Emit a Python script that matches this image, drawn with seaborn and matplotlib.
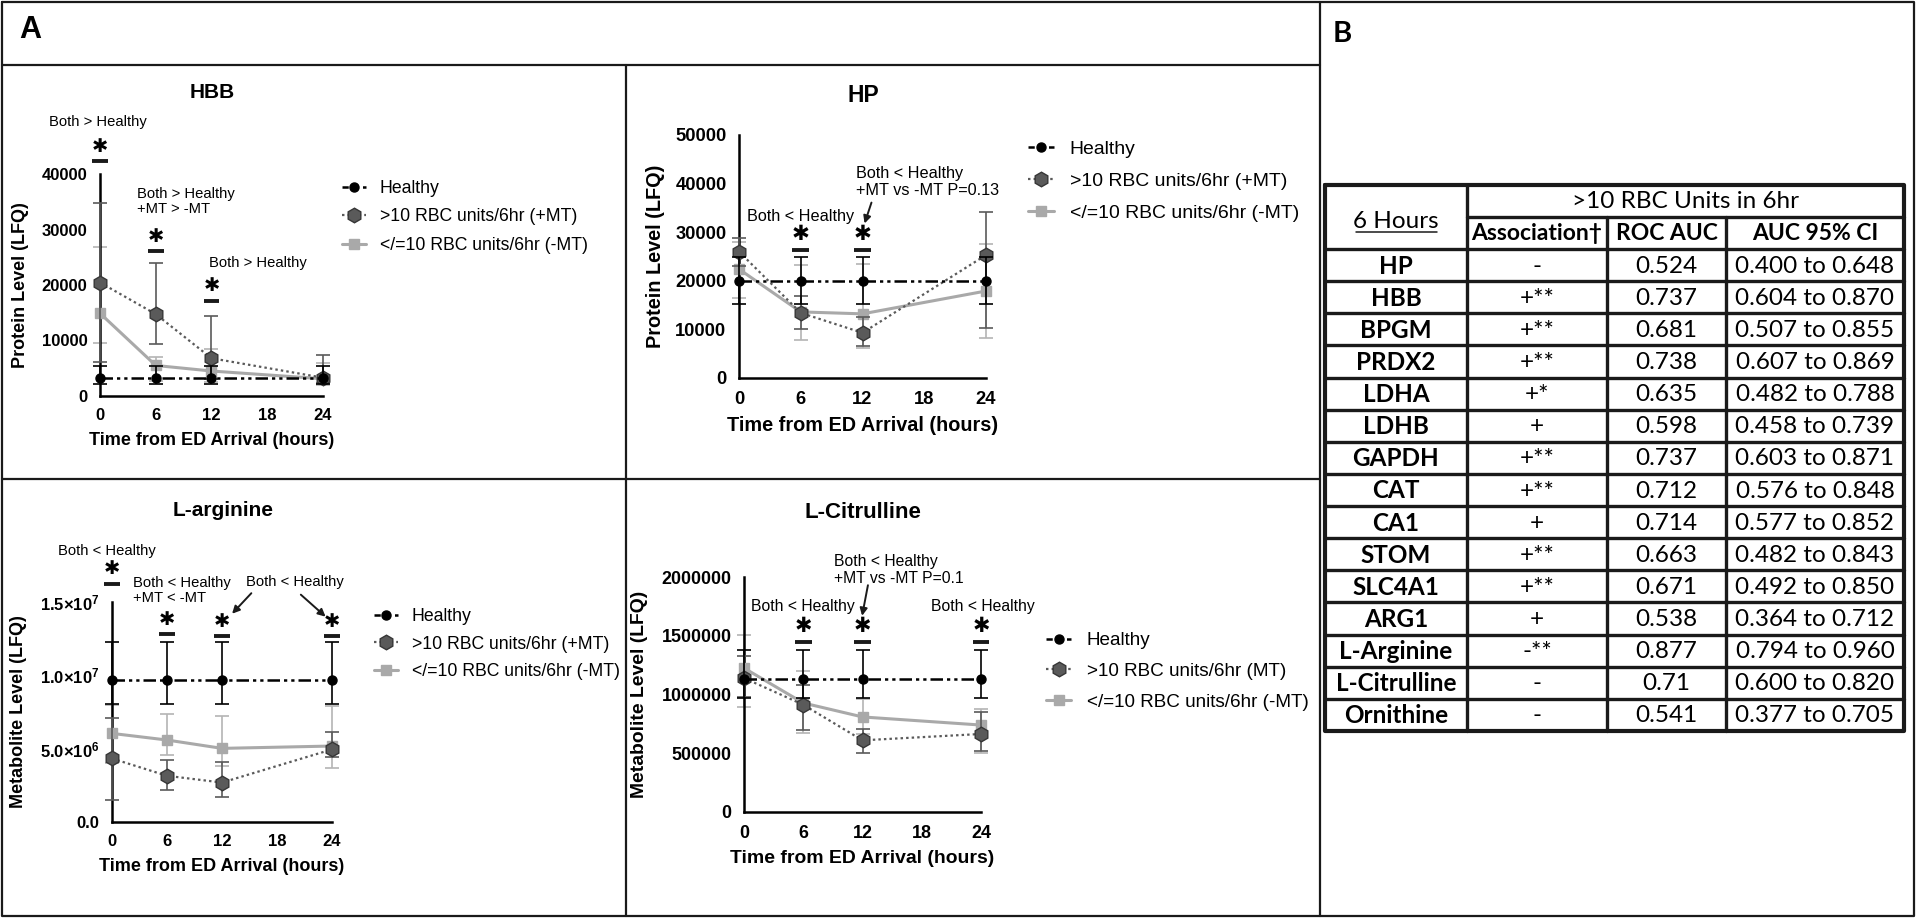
import numpy as np
import pandas as pd
import seaborn as sns
import matplotlib
matplotlib.use("Agg")
import matplotlib.pyplot as plt
from matplotlib.lines import Line2D

# ---------------- data ----------------
HOURS = [0, 6, 12, 24]
X_TICKS = [0, 6, 12, 18, 24]
SERIES = ["Healthy", ">10 RBC units/6hr (+MT)", "</=10 RBC units/6hr (-MT)"]
SERIES_CIT = ["Healthy", ">10 RBC units/6hr (MT)", "</=10 RBC units/6hr (-MT)"]

# HBB (protein, LFQ)
HBB_H = [3300, 3300, 3300, 3300]
HBB_H_LO = [2250, 2250, 2250, 2250]
HBB_H_HI = [5400, 5400, 5400, 5400]
HBB_MT = [20450, 14750, 6800, 3300]
HBB_MT_LO = [6200, 9300, 3000, 2300]
HBB_MT_HI = [34800, 24050, 14400, 7350]
HBB_NO = [14900, 5500, 4500, 3100]
HBB_NO_LO = [9500, 2700, 2500, 2000]
HBB_NO_HI = [26800, 7000, 8540, 6000]

# HP (protein, LFQ)
HP_H = [19900, 19900, 19900, 19900]
HP_H_LO = [15200, 15200, 15200, 15200]
HP_H_HI = [24800, 24800, 24800, 24800]
HP_MT = [26000, 13400, 9300, 25300]
HP_MT_LO = [23000, 10000, 6500, 10200]
HP_MT_HI = [28900, 16800, 12500, 34200]
HP_NO = [22400, 13600, 13200, 17900]
HP_NO_LO = [16500, 7900, 6200, 8300]
HP_NO_HI = [28000, 23200, 23400, 27500]

# L-arginine (metabolite, LFQ)
ARG_H = [9.7e6, 9.7e6, 9.7e6, 9.7e6]
ARG_H_LO = [8.05e6, 8.05e6, 8.05e6, 8.05e6]
ARG_H_HI = [12.3e6, 12.3e6, 12.3e6, 12.3e6]
ARG_MT = [4.33e6, 3.15e6, 2.69e6, 4.95e6]
ARG_MT_LO = [1.48e6, 2.2e6, 1.7e6, 4.45e6]
ARG_MT_HI = [7.07e6, 4.2e6, 4.1e6, 6.16e6]
ARG_NO = [6.04e6, 5.59e6, 5.02e6, 5.18e6]
ARG_NO_LO = [4.0e6, 4.56e6, 3.8e6, 3.65e6]
ARG_NO_HI = [8.0e6, 7.36e6, 7.2e6, 7.9e6]

# L-Citrulline (metabolite, LFQ)
CIT_H = [1.135e6, 1.135e6, 1.135e6, 1.135e6]
CIT_H_LO = [0.97e6, 0.97e6, 0.97e6, 0.97e6]
CIT_H_HI = [1.375e6, 1.375e6, 1.375e6, 1.375e6]
CIT_MT = [1.14e6, 0.913e6, 0.61e6, 0.664e6]
CIT_MT_LO = [0.98e6, 0.70e6, 0.50e6, 0.516e6]
CIT_MT_HI = [1.33e6, 1.08e6, 0.706e6, 0.848e6]
CIT_NO = [1.225e6, 0.928e6, 0.809e6, 0.74e6]
CIT_NO_LO = [0.894e6, 0.672e6, 0.66e6, 0.502e6]
CIT_NO_HI = [1.51e6, 1.197e6, 0.96e6, 0.877e6]

# table (panel B)
TAB_GENES = ["HP", "HBB", "BPGM", "PRDX2", "LDHA", "LDHB", "GAPDH", "CAT", "CA1",
             "STOM", "SLC4A1", "ARG1", "L-Arginine", "L-Citrulline", "Ornithine"]
TAB_ASSOC = ["-", "+**", "+**", "+**", "+*", "+", "+**", "+**", "+",
             "+**", "+**", "+", "-**", "-", "-"]
TAB_AUC = ["0.524", "0.737", "0.681", "0.738", "0.635", "0.598", "0.737", "0.712",
           "0.714", "0.663", "0.671", "0.538", "0.877", "0.71", "0.541"]
TAB_CI = ["0.400 to 0.648", "0.604 to 0.870", "0.507 to 0.855", "0.607 to 0.869",
          "0.482 to 0.788", "0.458 to 0.739", "0.603 to 0.871", "0.576 to 0.848",
          "0.577 to 0.852", "0.482 to 0.843", "0.492 to 0.850", "0.364 to 0.712",
          "0.794 to 0.960", "0.600 to 0.820", "0.377 to 0.705"]

# ---------------- style ----------------
sns.set_theme(style="white")
plt.rcParams["font.family"] = ["Liberation Sans", "DejaVu Sans"]
plt.rcParams["mathtext.fontset"] = "custom"
plt.rcParams["mathtext.rm"] = "Liberation Sans"
plt.rcParams["mathtext.bf"] = "Liberation Sans:bold"
for k in ["text.color", "axes.labelcolor", "xtick.color", "ytick.color", "axes.edgecolor"]:
    plt.rcParams[k] = "black"

W, H = 1916, 918
fig = plt.figure(figsize=(W / 100, H / 100), dpi=100)
bg = fig.add_axes([0, 0, 1, 1])
bg.set_xlim(0, W)
bg.set_ylim(H, 0)
bg.axis("off")

# frame lines
LW_FRAME = 1.6
bg.plot([2, W - 2, W - 2, 2, 2], [2, 2, H - 2, H - 2, 2], color="k", lw=LW_FRAME)
bg.plot([2, 1320], [65, 65], color="k", lw=LW_FRAME)
bg.plot([1320, 1320], [2, H - 2], color="k", lw=LW_FRAME)
bg.plot([626, 626], [65, H - 2], color="k", lw=LW_FRAME)
bg.plot([2, 1320], [479, 479], color="k", lw=LW_FRAME)
bg.text(19, 30, "A", fontsize=22, fontweight="bold", va="center", ha="left")
bg.text(1333, 34, "B", fontsize=21, fontweight="bold", va="center", ha="left",
        family=["Lato", "DejaVu Sans"])

C_H = "black"
C_MT = "#5a5a5a"
C_MT_EDGE = "#363636"
C_NO = "#a9a9a9"
C_NO_ERR = "#b4b4b4"
DASH_H = (0, (5, 1.6, 1.3, 1.6, 1.3, 1.6))
DASH_MT = (0, (1.1, 1.4))


def px_axes(x0, x1, y_bottom, y_top):
    return fig.add_axes([x0 / W, 1 - y_bottom / H, (x1 - x0) / W, (y_bottom - y_top) / H])


def draw_series(ax, mean, lo, hi, color, ecolor, ls, marker, ms, mec, lw, z):
    mean = np.asarray(mean, float)
    yerr = [mean - np.asarray(lo, float), np.asarray(hi, float) - mean]
    cont = ax.errorbar(HOURS, mean, yerr=yerr, fmt="none", ecolor=ecolor, elinewidth=1.2,
                       capsize=4.8, capthick=1.2, zorder=z - 0.5)
    for art in cont.get_children():
        art.set_clip_on(False)
    df = pd.DataFrame({"hours": HOURS, "value": mean})
    sns.lineplot(data=df, x="hours", y="value", ax=ax, color=color, linestyle=ls, lw=lw,
                 marker=marker, markersize=ms, markeredgecolor=mec, markeredgewidth=1.0,
                 markerfacecolor=color, errorbar=None, legend=False, zorder=z, clip_on=False)


def panel(x0, x1, yb, yt, ylim, yticks, yticklabels, title, title_xy, ylabel, ylabel_pos,
          data, labels, legend_xy, leg_space, scale, annots, arrows, sigs, sig_y):
    ax = px_axes(x0, x1, yb, yt)
    (h, hlo, hhi), (m, mlo, mhi), (n, nlo, nhi) = data
    draw_series(ax, n, nlo, nhi, C_NO, C_NO_ERR, "-", "s", 6.5, C_NO, 2.2, 3)
    draw_series(ax, m, mlo, mhi, C_MT, C_MT, DASH_MT, "h", 10.5, C_MT_EDGE, 1.6, 4)
    draw_series(ax, h, hlo, hhi, C_H, C_H, DASH_H, "o", 6.5, C_H, 1.8, 5)
    ax.set_xlim(0, 24)
    ax.set_ylim(*ylim)
    ax.set_xticks(X_TICKS, labels=[str(t) for t in X_TICKS], fontweight="bold")
    ax.set_yticks(yticks, labels=yticklabels, fontweight="bold")
    ax.tick_params(axis="both", direction="out", length=6, width=1.6,
                   labelsize=12 * scale, pad=3, colors="black")
    for s in ["top", "right"]:
        ax.spines[s].set_visible(False)
    for s in ["left", "bottom"]:
        ax.spines[s].set_linewidth(1.8)
        ax.spines[s].set_color("black")
    ax.set_xlabel("Time from ED Arrival (hours)", fontsize=13 * scale, fontweight="bold",
                  labelpad=6)
    ax.set_ylabel(ylabel, fontsize=13 * scale, fontweight="bold")
    ax.yaxis.set_label_coords(*ylabel_pos)
    ax.patch.set_alpha(0)
    bg.text(title_xy[0], title_xy[1], title, fontsize=15 * scale, fontweight="bold",
            ha="center", va="center")
    # significance markers
    half = 0.85
    for (sx, sy) in sigs:
        st, bar = sig_y if sy is None else sy
        ax.plot([sx - half, sx + half], [bar, bar], color="k", lw=2.8, clip_on=False,
                solid_capstyle="butt", zorder=6)
        ax.text(sx, st, "\u2731", fontsize=14 * scale, ha="center", va="center",
                family=["DejaVu Sans"], clip_on=False, zorder=6)
    for (tx, ty, txt, ha) in annots:
        ax.text(tx, ty, txt, fontsize=10.6 * scale, ha=ha, va="center", linespacing=1.1,
                clip_on=False)
    for (p0, p1) in arrows:
        ax.annotate("", xy=p1, xytext=p0, annotation_clip=False,
                    arrowprops=dict(arrowstyle="-|>", color="k", lw=1.4, mutation_scale=11,
                                    shrinkA=0, shrinkB=0))
    handles = [
        Line2D([], [], color=C_H, linestyle=(0, (2.5, 1.6)), marker="o", markersize=6.5, lw=1.8),
        Line2D([], [], color=C_MT, linestyle=DASH_MT, marker="h", markersize=10.5,
               markeredgecolor=C_MT_EDGE, lw=1.6),
        Line2D([], [], color=C_NO, linestyle="-", marker="s", markersize=6.5, lw=2.2),
    ]
    ax.legend(handles=handles, labels=labels, loc="upper left",
              bbox_to_anchor=(legend_xy[0] / W, 1 - legend_xy[1] / H),
              bbox_transform=fig.transFigure, frameon=False, fontsize=12.7 * scale,
              handlelength=1.35, handletextpad=0.8, labelspacing=leg_space,
              borderpad=0, borderaxespad=0)
    return ax


# HBB
panel(100, 323, 396, 174, (0, 40000), [0, 10000, 20000, 30000, 40000],
      ["0", "10000", "20000", "30000", "40000"], "HBB", (212, 92),
      "Protein Level (LFQ)", (-0.318, 0.5),
      [(HBB_H, HBB_H_LO, HBB_H_HI), (HBB_MT, HBB_MT_LO, HBB_MT_HI),
       (HBB_NO, HBB_NO_LO, HBB_NO_HI)],
      SERIES, (342, 180), 0.65, 1.0,
      [(-0.2, 49300, "Both > Healthy", "center"),
       (4.0, 35060, "Both > Healthy\n+MT > -MT", "left"),
       (11.7, 23940, "Both > Healthy", "left")],
      [],
      [(0, (45000, 42400)), (6, (28750, 26050)), (12, (19900, 17200))], None)

# HP
panel(739, 986, 378, 135, (0, 50000), [0, 10000, 20000, 30000, 40000, 50000],
      ["0", "10000", "20000", "30000", "40000", "50000"], "HP", (863, 95),
      "Protein Level (LFQ)", (-0.30, 0.5),
      [(HP_H, HP_H_LO, HP_H_HI), (HP_MT, HP_MT_LO, HP_MT_HI), (HP_NO, HP_NO_LO, HP_NO_HI)],
      SERIES, (1028, 140), 0.75, 1.1,
      [(6.0, 33170, "Both < Healthy", "center"),
       (11.4, 40330, "Both < Healthy\n+MT vs -MT P=0.13", "left")],
      [((12.87, 36090), (12.2, 31800))],
      [(6, None), (12, None)], (29650, 26390))

# L-arginine
arg_ticks = [0, 5e6, 1e7, 1.5e7]
arg_labels = ["0.0", r"$\mathbf{5.0{\times}10^{6}}$", r"$\mathbf{1.0{\times}10^{7}}$",
              r"$\mathbf{1.5{\times}10^{7}}$"]
panel(112, 332, 822, 602, (0, 1.5e7), arg_ticks, arg_labels, "L-arginine", (223, 511),
      "Metabolite Level (LFQ)", (-0.386, 0.5),
      [(ARG_H, ARG_H_LO, ARG_H_HI), (ARG_MT, ARG_MT_LO, ARG_MT_HI),
       (ARG_NO, ARG_NO_LO, ARG_NO_HI)],
      SERIES, (374, 608), 0.6, 1.0,
      [(-0.6, 18.5e6, "Both < Healthy", "center"),
       (2.3, 15.78e6, "Both < Healthy\n+MT < -MT", "left"),
       (20.0, 16.35e6, "Both < Healthy", "center")],
      [((15.2, 15.6e6), (13.1, 14.2e6)), ((20.6, 15.5e6), (23.3, 14.0e6))],
      [(0, (17.3e6, 16.2e6)), (6, (13.8e6, 12.8e6)), (12, (13.7e6, 12.7e6)),
       (24, (13.7e6, 12.7e6))], None)

# L-Citrulline
cit_ticks = [0, 5e5, 1e6, 1.5e6, 2e6]
panel(744, 981, 812, 577, (0, 2e6), cit_ticks, ["0", "500000", "1000000", "1500000", "2000000"],
      "L-Citrulline", (863, 512), "Metabolite Level (LFQ)", (-0.405, 0.5),
      [(CIT_H, CIT_H_LO, CIT_H_HI), (CIT_MT, CIT_MT_LO, CIT_MT_HI),
       (CIT_NO, CIT_NO_LO, CIT_NO_HI)],
      SERIES_CIT, (1046, 632), 0.72, 1.07,
      [(6.0, 1.75e6, "Both < Healthy", "center"),
       (9.15, 2.06e6, "Both < Healthy\n+MT vs -MT P=0.1", "left"),
       (24.2, 1.75e6, "Both < Healthy", "center")],
      [((12.55, 1.93e6), (11.96, 1.67e6))],
      [(6, None), (12, None), (24, None)], (1.58e6, 1.444e6))

# ---------------- table (panel B) ----------------
TX = [1325, 1467, 1607, 1726, 1904]
TY0, TYM, TYH, TY1 = 185, 217, 249, 731
RH = (TY1 - TYH) / len(TAB_GENES)
TLW = 2.4
TFONT = ["Lato", "DejaVu Sans"]
TFS = 17.5
bg.plot([TX[0], TX[-1], TX[-1], TX[0], TX[0]], [TY0, TY0, TY1, TY1, TY0], color="k", lw=3.0)
bg.plot([TX[1], TX[-1]], [TYM, TYM], color="k", lw=TLW)
bg.plot([TX[1], TX[1]], [TY0, TY1], color="k", lw=TLW)
for xc in TX[2:4]:
    bg.plot([xc, xc], [TYM, TY1], color="k", lw=TLW)
for i in range(len(TAB_GENES)):
    yl = TYH + i * RH
    bg.plot([TX[0], TX[-1]], [yl, yl], color="k", lw=TLW)
bg.text((TX[0] + TX[1]) / 2, 221, "6 Hours", fontsize=TFS, ha="center", va="center", family=TFONT)
bg.plot([1356, 1437], [232, 232], color="k", lw=1.1)
bg.text((TX[1] + TX[-1]) / 2, (TY0 + TYM) / 2 + 1, ">10 RBC Units in 6hr", fontsize=TFS,
        ha="center", va="center", family=TFONT)
for j, hd in enumerate(["Association\u2020", "ROC AUC", "AUC 95% CI"]):
    bg.text((TX[j + 1] + TX[j + 2]) / 2, (TYM + TYH) / 2 + 1, hd, fontsize=16.5,
            fontweight="bold", ha="center", va="center", family=TFONT)
for i, (g, a, auc, ci) in enumerate(zip(TAB_GENES, TAB_ASSOC, TAB_AUC, TAB_CI)):
    yc = TYH + (i + 0.5) * RH + 1
    bg.text((TX[0] + TX[1]) / 2, yc, g, fontsize=TFS, fontweight="bold", ha="center",
            va="center", family=TFONT)
    bg.text((TX[1] + TX[2]) / 2, yc, a, fontsize=TFS, ha="center", va="center", family=TFONT)
    bg.text((TX[2] + TX[3]) / 2, yc, auc, fontsize=TFS, ha="center", va="center", family=TFONT)
    bg.text((TX[3] + TX[4]) / 2, yc, ci, fontsize=TFS, ha="center", va="center", family=TFONT)

fig.savefig("out.png", dpi=100)
